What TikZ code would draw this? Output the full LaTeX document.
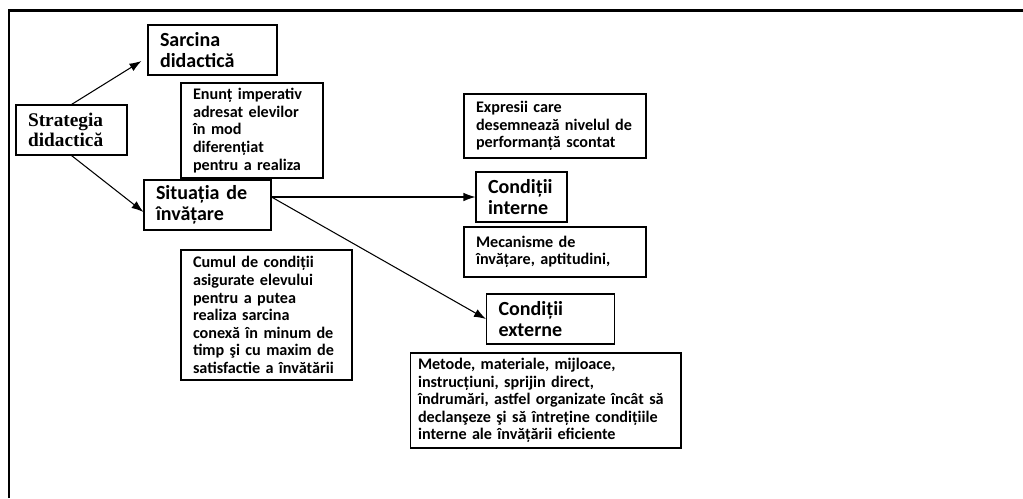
\documentclass[tikz,border=0pt]{standalone}
\usepackage{fontspec}
\setmainfont{Carlito}
\newfontfamily\timesfont{Liberation Serif}
\usetikzlibrary{arrows.meta}

\begin{document}
\begin{tikzpicture}[x=0.02cm,y=-0.02cm,
  box/.style={draw,line width=0.6pt,inner xsep=0.24cm,inner ysep=0pt,align=left},
  titlebox/.style={box,font=\bfseries\fontsize{11.4}{11.8}\selectfont},
  notebox/.style={box,font=\bfseries\fontsize{9.2}{10}\selectfont},
  arr/.style={-{Latex[length=2.4mm,width=1.7mm]},line width=0.6pt}]
\useasboundingbox (0,0) rectangle (1023,498);
% frame
\draw[line width=0.06cm] (9,498) -- (9,10) -- (1023,10);

\node[box,font=\timesfont\bfseries\fontsize{11}{11.4}\selectfont,minimum width=2.22cm,minimum height=1cm,text width=1.74cm] (strat) at (71.5,130) {Strategia\\didactică};
\node[titlebox,minimum width=2.58cm,minimum height=1cm,text width=2.10cm] (sarc) at (212.5,50) {Sarcina\\didactică};
\node[notebox,minimum width=2.84cm,minimum height=1.9cm,text width=2.36cm] (enunt) at (252,130.5) {Enunț imperativ\\adresat elevilor\\în mod\\diferențiat\\pentru a realiza};
\node[titlebox,minimum width=2.54cm,minimum height=1cm,text width=2.06cm] (situ) at (207.5,205) {Situația de\\învățare};
\node[notebox,minimum width=3.42cm,minimum height=2.6cm,text width=2.94cm] (cumul) at (266.5,315) {Cumul de condiții\\asigurate elevului\\pentru a putea\\realiza sarcina\\conexă în minum de\\timp şi cu maxim de\\satisfactie a învătării};

\node[notebox,minimum width=3.64cm,minimum height=1.28cm,text width=3.16cm] (expr) at (555,126) {Expresii care\\desemnează nivelul de\\performanță scontat};
\node[titlebox,minimum width=1.82cm,minimum height=1cm,text width=1.34cm] (inter) at (521.5,197) {Condiții\\interne};
\node[notebox,minimum width=3.64cm,minimum height=1cm,text width=3.16cm] (mecan) at (555,252) {Mecanisme de\\învățare, aptitudini,};
\node[titlebox,minimum width=2.56cm,minimum height=1cm,text width=2.08cm] (exter) at (550.5,319) {Condiții\\externe};
\node[notebox,inner xsep=0.16cm,minimum width=5.42cm,minimum height=1.9cm,text width=5.10cm] (metode) at (545.5,400.5) {Metode, materiale, mijloace,\\instrucțiuni, sprijin direct,\\îndrumări, astfel organizate încât să\\declanşeze şi să întreține condițiile\\interne ale învățării eficiente};

% arrows
\draw[arr] (strat.north) to ([xshift=-0.12cm,yshift=-0.22cm]sarc.west);
\draw[arr] (strat.south) to ([yshift=-0.14cm]situ.west);
\draw[arr] (situ.east |- inter.west) to (inter.west);
\draw[arr] (situ.east |- inter.west) to (exter.west);
\end{tikzpicture}
\end{document}
